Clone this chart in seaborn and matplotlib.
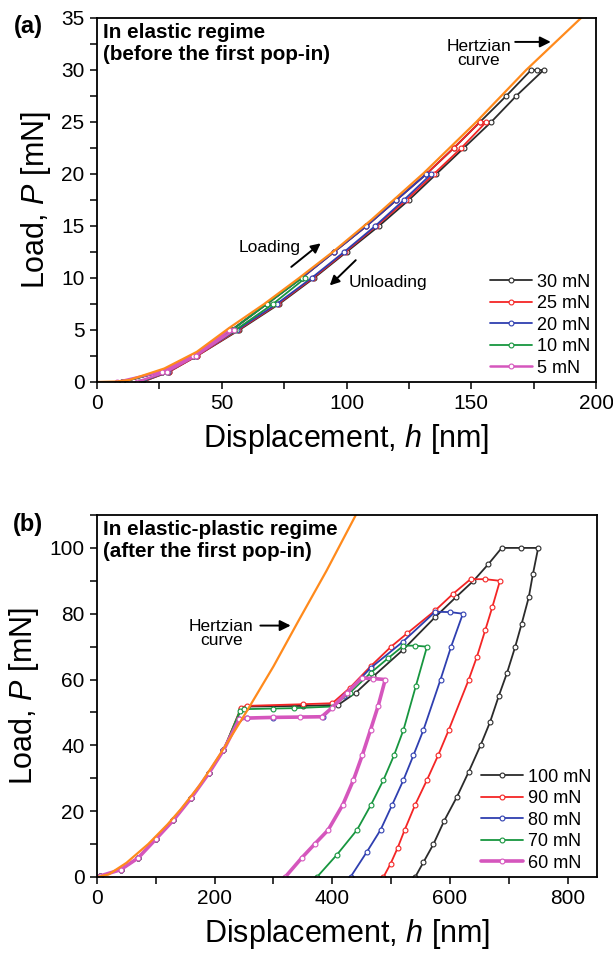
import matplotlib
matplotlib.use("Agg")
import matplotlib.pyplot as plt
from matplotlib.ticker import MultipleLocator
import seaborn as sns

# ---------------- data ----------------
# (a) elastic regime
H_HERTZ_A = [0, 8, 13, 27, 40, 53, 67, 81, 95, 110, 131, 152, 172, 194]
P_HERTZ_A = [0, 0.05, 0.2, 1.3, 2.9, 5.2, 7.5, 10, 12.6, 15.6, 20.1, 25, 30, 35]

H_30 = [10, 26, 38.5, 54, 68, 82, 95, 108, 120, 132, 143, 153.5, 164, 174, 176.5, 179,
        168, 158, 147, 136, 125, 113, 100, 87, 73, 57, 40, 29, 18]
P_30 = [0, 1, 2.5, 5, 7.5, 10, 12.5, 15, 17.5, 20, 22.5, 25, 27.5, 30, 30, 30,
        27.5, 25, 22.5, 20, 17.5, 15, 12.5, 10, 7.5, 5, 2.5, 1, 0]
H_25 = [10, 26, 38.5, 54, 68, 82, 95, 108, 120, 132, 143, 153.5, 156,
        146, 135, 124, 112, 99.5, 86.5, 72.5, 56.5, 40, 29, 18]
P_25 = [0, 1, 2.5, 5, 7.5, 10, 12.5, 15, 17.5, 20, 22.5, 25, 25,
        22.5, 20, 17.5, 15, 12.5, 10, 7.5, 5, 2.5, 1, 0]
H_20 = [10, 26, 38.5, 54, 68, 82, 95, 108, 120, 132, 134,
        123, 111.5, 99, 86, 72, 56, 39.5, 28.5, 17.5]
P_20 = [0, 1, 2.5, 5, 7.5, 10, 12.5, 15, 17.5, 20, 20,
        17.5, 15, 12.5, 10, 7.5, 5, 2.5, 1, 0]
H_10 = [10, 26, 38.5, 54, 68, 82, 83.5, 70.5, 55.5, 39, 28, 17]
P_10 = [0, 1, 2.5, 5, 7.5, 10, 10, 7.5, 5, 2.5, 1, 0]
H_5 = [8, 26, 38.5, 53, 55, 39.5, 28, 16]
P_5 = [0, 1, 2.5, 5, 5, 2.5, 1, 0]

# (b) elastic-plastic regime
H_HERTZ_B = [0, 20, 50, 87, 120, 142, 175, 210, 243, 255, 300, 343, 390, 440]
P_HERTZ_B = [0, 0.8, 4.3, 10, 16, 20.5, 28, 37.5, 47, 50.5, 64, 78, 93, 110]

H_100 = [5, 40, 70, 100, 130, 160, 190, 215, 245, 255, 350, 410, 440, 470, 520, 575, 610, 640, 665, 688,
         720, 750, 741, 734, 722, 711, 697, 683, 668, 652, 632, 612, 590, 572, 555, 541]
P_100 = [0.3, 2.2, 5.8, 11.5, 17.3, 24, 31.5, 38.5, 51, 51.8, 52, 52.3, 56, 61, 69, 79, 85, 90, 95, 100,
         100, 100, 92, 85, 77, 70, 62, 55, 47, 40, 32, 24.4, 17, 10, 4.5, 0]
H_90 = [5, 40, 70, 100, 130, 160, 190, 215, 245, 255, 350, 400, 430, 465, 500, 527, 575, 605, 635,
        660, 685, 672, 660, 646, 632, 598, 580, 561, 541, 523, 511, 499, 487]
P_90 = [0.3, 2.2, 5.8, 11.5, 17.3, 24, 31.5, 38.5, 51.5, 52, 52.5, 52.8, 57.5, 64, 70, 74, 81, 86, 90.5,
        90.5, 90, 82, 75, 67, 60, 44.7, 37, 29.5, 22, 14.3, 8.8, 4, 0]
H_80 = [5, 40, 70, 100, 130, 160, 190, 215, 242, 255, 300, 385, 420, 465, 520, 575,
        600, 622, 602, 584, 555, 538, 521, 502, 482, 459, 431]
P_80 = [0.3, 2.2, 5.8, 11.5, 17.3, 24, 31.5, 38.5, 48, 48.2, 48.4, 48.7, 55, 63.5, 71.5, 80.6,
        80.5, 80, 70, 60, 44.7, 37, 29.5, 22, 14.3, 7.7, 0]
H_70 = [5, 40, 70, 100, 130, 160, 190, 215, 243, 250, 300, 335, 400, 430, 465, 495, 521,
        540, 561, 542, 521, 505, 487, 466, 442, 408, 374]
P_70 = [0.3, 2.2, 5.8, 11.5, 17.3, 24, 31.5, 38.5, 50.5, 51, 51.2, 51.3, 51.8, 56, 62, 66.5, 70.3,
        70.3, 70, 58, 44.7, 37, 29.5, 22, 14.3, 6.8, 0]
H_60 = [5, 40, 70, 100, 130, 160, 190, 215, 242, 255, 300, 345, 382, 400, 425, 450,
        470, 490, 478, 465, 451, 436, 418, 393, 370, 348, 320]
P_60 = [0.3, 2.2, 5.8, 11.5, 17.3, 24, 31.5, 38.5, 48, 48.3, 48.5, 48.6, 48.7, 51.5, 56, 60.5,
        60.3, 60, 52, 44.7, 37, 29.5, 22, 14.3, 10, 5.8, 0]

LABELS_A = ["30 mN", "25 mN", "20 mN", "10 mN", "5 mN"]
LABELS_B = ["100 mN", "90 mN", "80 mN", "70 mN", "60 mN"]
COLORS = ["#2b2b2b", "#f42525", "#2f3fb0", "#17963f", "#d556bd"]
ORANGE = "#ff8a1c"

# ---------------- style ----------------
sns.set_style("ticks")
plt.rcParams["font.family"] = ["Liberation Sans", "DejaVu Sans"]
plt.rcParams["mathtext.fontset"] = "custom"
plt.rcParams["mathtext.rm"] = "Liberation Sans"
plt.rcParams["mathtext.it"] = "Liberation Sans:italic"
for key in ["text.color", "axes.labelcolor", "xtick.color", "ytick.color", "axes.edgecolor"]:
    plt.rcParams[key] = "black"

fig = plt.figure(figsize=(6.13, 9.57), dpi=100)
W, H = 613, 957
ax1 = fig.add_axes([97 / W, 1 - 382 / H, (596 - 97) / W, (382 - 18) / H])
ax2 = fig.add_axes([97 / W, 1 - 877 / H, (597 - 97) / W, (877 - 515) / H])


def draw_curve(ax, h, p, color, label, lw=1.3, ms=3.5):
    sns.lineplot(x=h, y=p, ax=ax, sort=False, estimator=None, color=color, lw=lw,
                 marker="o", markersize=ms, markerfacecolor="white",
                 markeredgecolor=color, markeredgewidth=0.8, label=label)


def style_axis(ax):
    for sp in ax.spines.values():
        sp.set_linewidth(1.3)
        sp.set_color("black")
    ax.tick_params(which="both", direction="out", length=5, width=1.1,
                   labelsize=15, pad=4, top=False, right=False)
    ax.set_xlabel(r"Displacement, $\mathit{h}$ [nm]", fontsize=22, labelpad=6)
    ax.set_ylabel(r"Load, $\mathit{P}$ [mN]", fontsize=22, labelpad=6)


# ---------------- (a) ----------------
curves_a = [(H_30, P_30), (H_25, P_25), (H_20, P_20), (H_10, P_10), (H_5, P_5)]
for (h, p), c, lab in zip(curves_a, COLORS, LABELS_A):
    draw_curve(ax1, h, p, c, lab, lw=1.8 if lab == "5 mN" else 1.3)
sns.lineplot(x=H_HERTZ_A, y=P_HERTZ_A, ax=ax1, sort=False, estimator=None,
             color=ORANGE, lw=1.6)

ax1.set_xlim(0, 200)
ax1.set_ylim(0, 35)
ax1.xaxis.set_major_locator(MultipleLocator(50))
ax1.xaxis.set_minor_locator(MultipleLocator(25))
ax1.yaxis.set_major_locator(MultipleLocator(5))
ax1.yaxis.set_minor_locator(MultipleLocator(2.5))
style_axis(ax1)

ax1.text(0.012, 0.985, "In elastic regime\n(before the first pop-in)", transform=ax1.transAxes,
         ha="left", va="top", fontsize=14.9, fontweight="bold", linespacing=1.2)
ax1.text(153, 31.6, "Hertzian\ncurve", ha="center", va="center", fontsize=12.5, linespacing=0.9)
ax1.annotate("", xy=(183, 32.7), xytext=(166.5, 32.7),
             arrowprops=dict(arrowstyle="-|>", color="black", lw=1.4, mutation_scale=16))
ax1.text(69, 12.9, "Loading", ha="center", va="center", fontsize=12.5)
ax1.annotate("", xy=(90.5, 13.5), xytext=(77, 10.9),
             arrowprops=dict(arrowstyle="-|>", color="black", lw=1.4, mutation_scale=14))
ax1.text(116.5, 9.55, "Unloading", ha="center", va="center", fontsize=12.5)
ax1.annotate("", xy=(92.5, 9.1), xytext=(104.5, 11.9),
             arrowprops=dict(arrowstyle="-|>", color="black", lw=1.4, mutation_scale=14))
ax1.legend(loc="lower right", frameon=False, fontsize=13, handlelength=2.3,
           handletextpad=0.3, labelspacing=0.25, borderaxespad=0.2, borderpad=0.1)

# ---------------- (b) ----------------
curves_b = [(H_100, P_100), (H_90, P_90), (H_80, P_80), (H_70, P_70), (H_60, P_60)]
for (h, p), c, lab in zip(curves_b, COLORS, LABELS_B):
    draw_curve(ax2, h, p, c, lab, lw=2.6 if lab == "60 mN" else 1.3)
sns.lineplot(x=H_HERTZ_B, y=P_HERTZ_B, ax=ax2, sort=False, estimator=None,
             color=ORANGE, lw=1.6)

ax2.set_xlim(0, 850)
ax2.set_ylim(0, 110)
ax2.xaxis.set_major_locator(MultipleLocator(200))
ax2.xaxis.set_minor_locator(MultipleLocator(100))
ax2.yaxis.set_major_locator(MultipleLocator(20))
ax2.yaxis.set_minor_locator(MultipleLocator(10))
style_axis(ax2)

ax2.text(0.012, 0.985, "In elastic-plastic regime\n(after the first pop-in)", transform=ax2.transAxes,
         ha="left", va="top", fontsize=14.9, fontweight="bold", linespacing=1.2)
ax2.text(211, 74.0, "Hertzian\ncurve", ha="center", va="center", fontsize=12.5, linespacing=0.9)
ax2.annotate("", xy=(334, 76.4), xytext=(273, 76.4),
             arrowprops=dict(arrowstyle="-|>", color="black", lw=1.4, mutation_scale=16))
ax2.legend(loc="lower right", frameon=False, fontsize=13, handlelength=2.3,
           handletextpad=0.3, labelspacing=0.25, borderaxespad=0.2, borderpad=0.1)

fig.text(28 / W, 1 - 27 / H, "(a)", ha="center", va="center", fontsize=17, fontweight="bold")
fig.text(28 / W, 1 - 525 / H, "(b)", ha="center", va="center", fontsize=17, fontweight="bold")

fig.savefig("out.png", dpi=100)
